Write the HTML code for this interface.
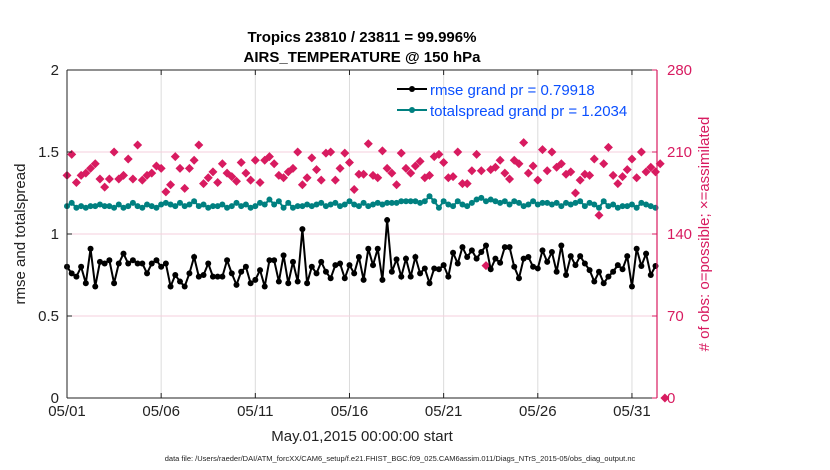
<!DOCTYPE html>
<html><head><meta charset="utf-8"><style>
body{margin:0;background:#fff;}
svg{display:block;font-family:"Liberation Sans",sans-serif;}
</style></head><body>
<svg id="chart" width="830" height="470" viewBox="0 0 830 470">
<g id="grid"></g>
<g id="marks"></g>
<g id="axes"></g>
</svg>
<script>
const rmse=[0.80,0.76,0.74,0.80,0.70,0.91,0.68,0.83,0.82,0.84,0.70,0.82,0.88,0.82,0.84,0.82,0.82,0.76,0.82,0.84,0.80,0.82,0.68,0.75,0.71,0.68,0.76,0.86,0.74,0.75,0.82,0.74,0.74,0.74,0.84,0.76,0.69,0.77,0.80,0.70,0.72,0.78,0.68,0.84,
0.84,0.71,0.87,0.70,0.83,0.71,1.03,0.70,0.80,0.76,0.83,0.77,0.73,0.81,0.82,0.73,0.81,0.76,0.86,0.72,0.91,0.81,0.91,0.72,1.085,0.77,0.845,0.74,0.85,0.74,0.86,0.76,0.79,0.70,0.79,0.785,0.81,0.74,0.886,0.82,0.92,0.86,0.90,
0.85,0.89,0.93,0.785,0.85,0.825,0.92,0.92,0.80,0.73,0.85,0.86,0.80,0.79,0.90,0.83,0.89,0.77,0.93,0.75,0.865,0.81,0.865,0.82,0.78,0.71,0.77,0.70,0.74,0.77,0.81,0.785,0.865,0.68,0.91,0.805,0.88,0.75,0.805];
const spread=[1.17,1.19,1.16,1.17,1.16,1.17,1.17,1.18,1.17,1.17,1.16,1.18,1.16,1.17,1.19,1.17,1.16,1.18,1.17,1.16,1.18,1.19,1.18,1.17,1.19,1.17,1.18,1.20,1.17,1.18,1.16,1.17,1.17,1.18,1.16,1.17,1.19,1.17,1.18,1.16,1.17,1.19,1.18,1.21,
1.18,1.20,1.16,1.19,1.16,1.17,1.17,1.18,1.17,1.18,1.19,1.17,1.18,1.19,1.17,1.18,1.20,1.18,1.17,1.19,1.17,1.18,1.19,1.18,1.19,1.19,1.19,1.20,1.20,1.20,1.20,1.19,1.20,1.23,1.20,1.16,1.20,1.18,1.17,1.20,1.18,1.17,1.19,
1.21,1.22,1.20,1.21,1.20,1.19,1.20,1.18,1.20,1.19,1.17,1.18,1.20,1.18,1.19,1.19,1.18,1.19,1.17,1.19,1.18,1.19,1.20,1.17,1.19,1.18,1.16,1.20,1.17,1.18,1.16,1.17,1.17,1.18,1.16,1.19,1.18,1.17,1.16];
const obs=[190,208,184,190,192,196,200,187,180,187,210,187,190,204,187,216,186,190,192,198,196,176,182,206,196,179,196,203,216,183,188,193,184,200,192,189,185,201,192,186,203,184,203,206,
200,190,188,193,196,210,182,188,205,195,186,209,210,186,196,209,201,178,191,191,217,190,188,211,196,192,182,209,196,192,198,202,188,190,206,208,201,188,189,210,183,183,194,
208,194,113,195,197,203,192,187,203,200,218,192,198,186,212,194,210,197,200,191,193,175,186,191,190,204,156,200,214,190,183,189,195,204,188,210,193,197,193,200,0];
const xTicks=[0,5,10,15,20,25,30];
const xTickLabels=["05/01","05/06","05/11","05/16","05/21","05/26","05/31"];
const yTicks=[0,0.5,1,1.5,2];
const yTickLabels=["0","0.5","1","1.5","2"];
const y2Ticks=[0,70,140,210,280];
const X0=67,X1=657,Y0=398,Y1=70,XMAX=31.33;
const RED="#d81b60",TEAL="#008080";
const sx=d=>X0+(d/XMAX)*(X1-X0);
const sy=v=>Y0-(v/2)*(Y0-Y1);
const sy2=v=>Y0-(v/280)*(Y0-Y1);
const NS="http://www.w3.org/2000/svg";
function mk(tag,attrs,parent,text){const e=document.createElementNS(NS,tag);for(const k in attrs)e.setAttribute(k,attrs[k]);if(text!=null)e.textContent=text;parent.appendChild(e);return e;}
const grid=document.getElementById('grid'),marks=document.getElementById('marks'),axes=document.getElementById('axes');
xTicks.forEach((t,i)=>{if(i>0){const l=mk('line',{x1:sx(t),x2:sx(t),y1:Y1,y2:Y0,stroke:'#dcdcdc','stroke-width':1},grid);

}});
y2Ticks.forEach((t,i)=>{if(i>0&&i<4){const l=mk('line',{x1:X0,x2:X1,y1:sy2(t),y2:sy2(t),stroke:'#f6cfdd','stroke-width':1},grid);

}});
obs.forEach((v,i)=>{const x=sx(i*0.25),y=sy2(v);const p=mk('polygon',{points:`${x},${y-4.5} ${x+4.5},${y} ${x},${y+4.5} ${x-4.5},${y}`,fill:RED},marks);

});
function series(vals,color,name){
const pts=vals.map((v,i)=>sx(i*0.25)+','+sy(v)).join(' ');
const pl=mk('polyline',{points:pts,fill:'none',stroke:color,'stroke-width':2},marks);


vals.forEach((v,i)=>{const c=mk('circle',{cx:sx(i*0.25),cy:sy(v),r:3,fill:color},marks);

});}
series(spread,TEAL,'totalspread');
series(rmse,'#000','rmse');
const bx=mk('path',{d:`M${X0},${Y1}H${X1} M${X0},${Y0}H${X1} M${X0},${Y1}V${Y0}`,stroke:'#222','stroke-width':1,fill:'none'},axes);


const ra=mk('line',{x1:X1,x2:X1,y1:Y1,y2:Y0,stroke:RED,'stroke-width':1.2},axes);


xTicks.forEach((t,i)=>{mk('line',{x1:sx(t),x2:sx(t),y1:Y0,y2:Y0-5,stroke:'#222'},axes);
mk('line',{x1:sx(t),x2:sx(t),y1:Y1,y2:Y1+5,stroke:'#222'},axes);
const tx=mk('text',{x:sx(t),y:Y0+18,'text-anchor':'middle','font-size':15,fill:'#222'},axes,xTickLabels[i]);

});
yTicks.forEach((t,i)=>{mk('line',{x1:X0,x2:X0+5,y1:sy(t),y2:sy(t),stroke:'#222'},axes);
const tx=mk('text',{x:X0-8,y:sy(t)+5,'text-anchor':'end','font-size':15,fill:'#222'},axes,yTickLabels[i]);

});
y2Ticks.forEach(t=>{mk('line',{x1:X1-5,x2:X1,y1:sy2(t),y2:sy2(t),stroke:RED},axes);
const tx=mk('text',{x:X1+10,y:sy2(t)+5,'font-size':15,fill:RED},axes,String(t));

});
</script>
<svg style="position:absolute;left:0;top:0" width="830" height="470">
<text x="362" y="42" text-anchor="middle" font-size="15" font-weight="bold" fill="#000">Tropics 23810 / 23811 = 99.996%</text>
<text x="362" y="62" text-anchor="middle" font-size="15" font-weight="bold" fill="#000">AIRS_TEMPERATURE @ 150 hPa</text>
<text x="362" y="441" text-anchor="middle" font-size="15" fill="#222">May.01,2015 00:00:00 start</text>
<text x="400" y="461" text-anchor="middle" font-size="7.5" fill="#222">data file: /Users/raeder/DAI/ATM_forcXX/CAM6_setup/f.e21.FHIST_BGC.f09_025.CAM6assim.011/Diags_NTrS_2015-05/obs_diag_output.nc</text>
<text transform="translate(25,234) rotate(-90)" text-anchor="middle" font-size="15" fill="#222">rmse and totalspread</text>
<text transform="translate(709,234) rotate(-90)" text-anchor="middle" font-size="15" fill="#d81b60"># of obs: o=possible; ×=assimilated</text>
<g>
<line x1="397" y1="89" x2="427" y2="89" stroke="#000" stroke-width="2"/><circle cx="412" cy="89" r="3" fill="#000"/>
<text x="430" y="95" font-size="15" fill="#0a4fff">rmse grand pr = 0.79918</text>
<line x1="397" y1="110" x2="427" y2="110" stroke="#008080" stroke-width="2"/><circle cx="412" cy="110" r="3" fill="#008080"/>
<text x="430" y="116" font-size="15" fill="#0a4fff">totalspread grand pr = 1.2034</text>
</g>
</svg>
</body></html>
